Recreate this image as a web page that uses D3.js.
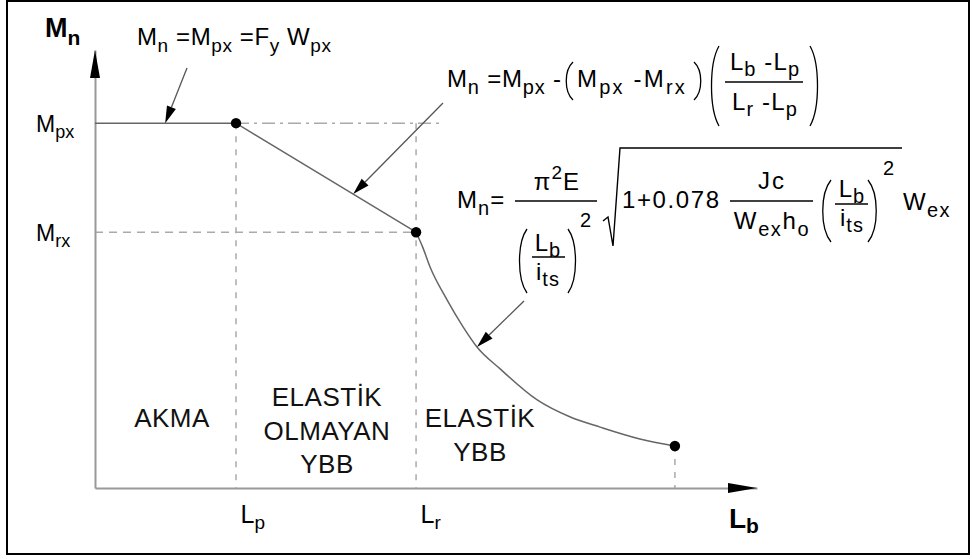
<!DOCTYPE html>
<html><head><meta charset="utf-8">
<script src="https://cdn.jsdelivr.net/npm/d3@7"></script>
<style>
html,body{margin:0;padding:0;background:#fff;}
svg{display:block;font-family:"Liberation Sans",Arial,Helvetica,sans-serif;}
text{white-space:pre;}
</style></head><body>
<svg id="chart" width="972" height="559"></svg>
<script>
// Nominal flexural strength Mn versus unbraced length Lb (schematic units)
const limitLengths = [21.3, 48.5];            // Lp, Lr
const limitLabels = [["L", "p"], ["L", "r"]];
const momentLevels = [83.3, 58.4];            // Mpx, Mrx
const momentLabels = [["M", "px"], ["M", "rx"]];
// elastic lateral-torsional buckling branch, from Lr to the end of the curve
const elasticLb = [48.5, 49.5, 50.6, 53.2, 55.6, 57.7, 61.2, 66.8, 71.8, 76.3, 82.3, 87.6];
const elasticMn = [58.4, 55.0, 50.5, 42.9, 36.8, 32.2, 27.2, 20.1, 16.2, 13.9, 11.2, 9.6];
const zoneLabels = [["AKMA"], ["ELASTİK", "OLMAYAN", "YBB"], ["ELASTİK", "YBB"]];
const refLineEnd = 52.4;                      // end of the Mpx dash-dot reference line
const leaderTargets = [10.6, 39.0, 57.7];     // Lb where each formula's leader points

const svg = d3.select("#chart");
const x = d3.scaleLinear().domain([0, 100]).range([95, 757]);
const y = d3.scaleLinear().domain([0, 100]).range([488, 50]);
const [Lp, Lr] = limitLengths;
const [Mpx, Mrx] = momentLevels;
const Lend = elasticLb[elasticLb.length - 1];
const Mend = elasticMn[elasticMn.length - 1];

// outer frame
svg.append("rect").attr("x", 7).attr("y", 1).attr("width", 962).attr("height", 553)
  .attr("fill", "none").attr("stroke", "#000").attr("stroke-width", 2);

// text with sub/superscripts
function rich(parent, px, py, parts, o) {
  const size = o.size || 23, small = o.small || 18;
  const t = parent.append("text").attr("x", px).attr("y", py)
    .attr("font-size", size).attr("fill", o.fill || "#000")
    .attr("text-anchor", o.anchor || "start")
    .attr("font-weight", o.weight || "normal")
    .attr("letter-spacing", o.ls || 0);
  let shift = 0;
  parts.forEach(([str, role]) => {
    const target = role === "s" ? (o.sub || 7) : role === "S" ? -(o.sup || 11) : 0;
    t.append("tspan").attr("dy", target - shift)
      .attr("font-size", role === "b" ? size : small).text(str);
    shift = target;
  });
  return t;
}

// dashed guide lines
const guide = svg.append("g").attr("fill", "none").attr("stroke", "#aaa").attr("stroke-width", 1.5);
guide.append("line").attr("x1", x(Lp)).attr("x2", x(Lp)).attr("y1", y(Mpx)).attr("y2", y(0))
  .attr("stroke-dasharray", "6,7");
guide.append("line").attr("x1", x(Lr)).attr("x2", x(Lr)).attr("y1", y(Mpx)).attr("y2", y(0))
  .attr("stroke-dasharray", "6,7");
guide.append("line").attr("x1", x(Lend)).attr("x2", x(Lend)).attr("y1", y(Mend)).attr("y2", y(0))
  .attr("stroke-dasharray", "6,7");
guide.append("line").attr("x1", x(0)).attr("x2", x(Lr)).attr("y1", y(Mrx)).attr("y2", y(Mrx))
  .attr("stroke-dasharray", "8,6");
guide.append("line").attr("x1", x(Lp)).attr("x2", x(refLineEnd)).attr("y1", y(Mpx)).attr("y2", y(Mpx))
  .attr("stroke-dasharray", "13,5,3,5");

// axes
const xAxis = svg.append("g").attr("transform", `translate(0,${y(0)})`)
  .call(d3.axisBottom(x).tickValues(limitLengths).tickSize(0).tickSizeOuter(0).tickPadding(0).tickFormat(""));
const yAxis = svg.append("g").attr("transform", `translate(${x(0)},0)`)
  .call(d3.axisLeft(y).tickValues(momentLevels).tickSize(0).tickSizeOuter(0).tickFormat(""));
[xAxis, yAxis].forEach(a => a.select(".domain").attr("stroke", "#999").attr("stroke-width", 2));

xAxis.selectAll(".tick").each(function (d, i) {
  d3.select(this).select("text").remove();
  rich(d3.select(this), 4, 35, [[limitLabels[i][0], "b"], [limitLabels[i][1], "s"]],
    { size: 25, small: 19, sub: 6 });
});
yAxis.selectAll(".tick").each(function (d, i) {
  d3.select(this).select("text").remove();
  rich(d3.select(this), -59, 8, [[momentLabels[i][0], "b"], [momentLabels[i][1], "s"]],
    { size: 23, small: 18, sub: 6 });
});

// axis arrowheads
svg.append("path").attr("fill", "#000")
  .attr("d", `M${x(0)},${y(100)}L${x(0) - 5},${y(100) + 28}L${x(0) + 5},${y(100) + 28}Z`);
svg.append("path").attr("fill", "#000")
  .attr("d", `M${x(100)},${y(0)}L${x(100) - 29},${y(0) - 5}L${x(100) - 29},${y(0) + 5}Z`);

// axis titles
rich(svg, 45, 37, [["M", "b"], ["n", "s"]], { size: 27, small: 21, weight: "bold", sub: 8 });
rich(svg, 729, 528, [["L", "b"], ["b", "s"]], { size: 28, small: 21, weight: "bold", sub: 5 });

// Mn curve: plateau, inelastic line, elastic branch
const line = d3.line().x(d => x(d[0])).y(d => y(d[1]));
const curveG = svg.append("g").attr("fill", "none").attr("stroke", "#666").attr("stroke-width", 1.5);
curveG.append("path").attr("d", line([[0, Mpx], [Lp, Mpx], [Lr, Mrx]]));
curveG.append("path").attr("d", line.curve(d3.curveMonotoneX)(elasticLb.map((v, i) => [v, elasticMn[i]])));

// limit points
svg.append("g").selectAll("circle")
  .data([[Lp, Mpx], [Lr, Mrx], [Lend, Mend]])
  .join("circle").attr("cx", d => x(d[0])).attr("cy", d => y(d[1])).attr("r", 5.2).attr("fill", "#000");

// leaders from the formulas to the curve
function mnAt(lb) {
  if (lb <= Lp) return Mpx;
  if (lb <= Lr) return Mpx - (Mpx - Mrx) * (lb - Lp) / (Lr - Lp);
  const i = elasticLb.indexOf(lb);
  return elasticMn[i];
}
const tails = [[187, 68], [443, 103], [524, 301]];
leaderTargets.forEach((lb, i) => {
  const [x0, y0] = tails[i];
  const x1 = x(lb), y1 = y(mnAt(lb));
  const len = Math.hypot(x1 - x0, y1 - y0), ux = (x1 - x0) / len, uy = (y1 - y0) / len;
  const bx = x1 - ux * 17, by = y1 - uy * 17, nx = -uy * 4.8, ny = ux * 4.8;
  svg.append("line").attr("x1", x0).attr("y1", y0).attr("x2", bx).attr("y2", by)
    .attr("stroke", "#555").attr("stroke-width", 1.3);
  svg.append("path").attr("fill", "#000")
    .attr("d", `M${x1},${y1}L${bx + nx},${by + ny}L${bx - nx},${by - ny}Z`);
});

// zone labels
const zoneAnchors = [[172, 427], [327, 406], [480, 427]];
zoneLabels.forEach((lines, i) => {
  lines.forEach((s, j) => {
    svg.append("text").attr("x", zoneAnchors[i][0]).attr("y", zoneAnchors[i][1] + j * 33.5)
      .attr("text-anchor", "middle").attr("font-size", 26).attr("letter-spacing", 0.5)
      .attr("fill", "#111").text(s);
  });
});

// formula helpers
const f = svg.append("g");
const F = { size: 24, small: 20, sub: 7, ls: 1.1 };
function bar(x1, x2, yy) {
  f.append("line").attr("x1", x1).attr("x2", x2).attr("y1", yy).attr("y2", yy)
    .attr("stroke", "#000").attr("stroke-width", 1.3);
}
function paren(x1, x2, top, bottom, left) {
  const h = bottom - top;
  const a = left ? x2 : x1, b = left ? x1 : x2;
  f.append("path").attr("fill", "none").attr("stroke", "#000").attr("stroke-width", 1.3)
    .attr("d", `M${a},${top}C${b},${top + h * 0.22} ${b},${bottom - h * 0.22} ${a},${bottom}`);
}

// Mn = Mpx = Fy Wpx
rich(f, 137, 45, [["M", "b"], ["n", "s"], [" =M", "b"], ["px", "s"], [" =F", "b"], ["y", "s"], [" W", "b"], ["px", "s"]],
  { size: 24, small: 19, sub: 7, ls: 0.6 });

// Mn = Mpx - (Mpx - Mrx)((Lb - Lp)/(Lr - Lp))
rich(f, 447, 87, [["M", "b"], ["n", "s"], [" =M", "b"], ["px", "s"], [" -", "b"]], { ...F, ls: 0.8 });
paren(564, 573, 62, 100, true);
rich(f, 577, 87, [["M", "b"], ["px", "s"], [" -M", "b"], ["rx", "s"]], { ...F, ls: 2.2 });
paren(694, 703, 62, 100, false);
paren(709, 719, 46, 126, true);
rich(f, 765, 70, [["L", "b"], ["b", "s"], [" -L", "b"], ["p", "s"]], { ...F, sub: 6, anchor: "middle" });
bar(725, 803, 82);
rich(f, 765, 110, [["L", "b"], ["r", "s"], [" -L", "b"], ["p", "s"]], { ...F, sub: 6, anchor: "middle" });
paren(810, 820, 46, 126, false);

// Mn = pi^2 E / (Lb/its)^2 * sqrt(1 + 0.078 Jc/(Wex ho) (Lb/its)^2) Wex
rich(f, 457, 208, [["M", "b"], ["n", "s"], ["=", "b"]], F);
bar(515, 597, 201);
rich(f, 557, 190, [["π", "b"], ["2", "S"], ["E", "b"]], { ...F, small: 19, sup: 11, anchor: "middle" });
paren(517, 527, 229, 293, true);
rich(f, 548, 251, [["L", "b"], ["b", "s"]], { ...F, sub: 6, anchor: "middle" });
bar(532, 565, 257);
rich(f, 548, 280, [["i", "b"], ["ts", "s"]], { ...F, sub: 6, anchor: "middle" });
paren(568, 578, 229, 293, false);
rich(f, 580, 227, [["2", "b"]], { size: 20 });
f.append("path").attr("fill", "none").attr("stroke", "#000").attr("stroke-width", 1.4)
  .attr("d", "M603,221L608,217L613,246L620,148L902,148");
rich(f, 622, 208, [["1+0.078", "b"]], { ...F, ls: 1.6 });
bar(730, 813, 201);
rich(f, 772, 189, [["Jc", "b"]], { ...F, ls: 2, anchor: "middle" });
rich(f, 772, 229, [["W", "b"], ["ex", "s"], ["h", "b"], ["o", "s"]], { ...F, ls: 1.6, anchor: "middle" });
paren(820, 831, 180, 242, true);
rich(f, 852, 197, [["L", "b"], ["b", "s"]], { ...F, sub: 6, anchor: "middle" });
bar(835, 868, 204);
rich(f, 852, 226, [["i", "b"], ["ts", "s"]], { ...F, sub: 6, anchor: "middle" });
paren(868, 879, 180, 242, false);
rich(f, 883, 175, [["2", "b"]], { size: 20 });
rich(f, 903, 210, [["W", "b"], ["ex", "s"]], { ...F, ls: 1.4 });
</script>
</body></html>
